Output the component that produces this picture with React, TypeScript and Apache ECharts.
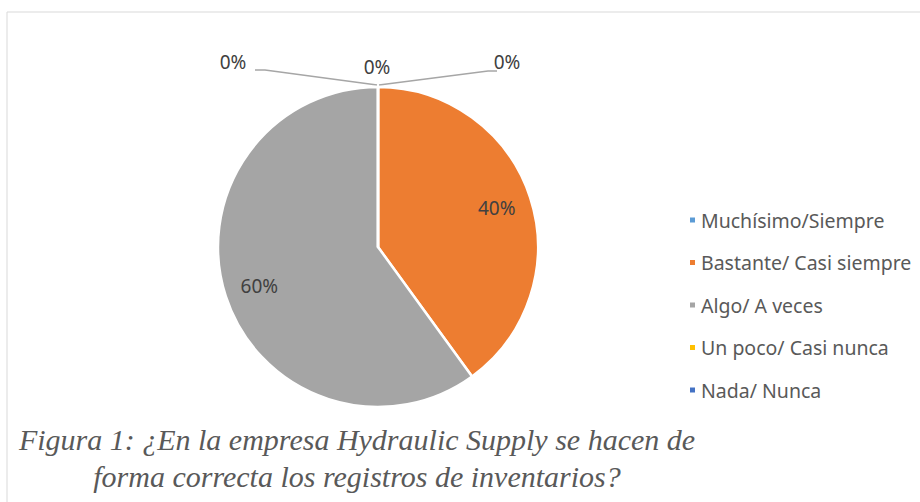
import React, { useEffect, useRef } from "react";
import * as echarts from "echarts";

const categories = [
  "Muchísimo/Siempre",
  "Bastante/ Casi siempre",
  "Algo/ A veces",
  "Un poco/ Casi nunca",
  "Nada/ Nunca",
];
const values = [0, 40, 60, 0, 0];
const colors = ["#5B9BD5", "#ED7D31", "#A5A5A5", "#FFC000", "#4472C4"];
const captionLines = [
  "Figura 1: ¿En la empresa Hydraulic Supply se hacen de",
  "forma correcta los registros de inventarios?",
];

const CX = 378;
const CY = 247;
const R = 160;

export default function App() {
  const ref = useRef<HTMLDivElement>(null);
  useEffect(() => {
    if (!ref.current) return;
    const chart = echarts.init(ref.current, null, { renderer: "svg" });
    const total = values.reduce((a, b) => a + b, 0);
    const mids: number[] = [];
    let acc = 0;
    values.forEach((v) => {
      const a = (v / total) * 360;
      mids.push(acc + a / 2);
      acc += a;
    });
    const topX = CX;
    const topY = CY - R;
    const zeroPlacement: Record<number, any> = {
      0: { x: topX + 129, y: topY - 25, line: [[topX + 1, topY - 2], [topX + 110, topY - 16], [topX + 119, topY - 16]] },
      3: { x: topX - 1, y: topY - 20, line: null },
      4: { x: topX - 145, y: topY - 25, line: [[topX - 1, topY - 2], [topX - 113, topY - 17], [topX - 123, topY - 17]] },
    };

    const option: any = {
      animation: false,
      color: colors,
      legend: {
        orient: "vertical",
        left: 683,
        top: 204,
        icon: "rect",
        itemWidth: 7,
        itemHeight: 7,
        itemGap: 20.5,
        textStyle: {
          fontFamily: "Noto Sans",
          fontSize: 19.5,
          color: "#595959",
          lineHeight: 22,
          padding: [0, 0, 0, 0],
        },
        data: categories,
      },
      graphic: [
        {
          type: "rect",
          shape: { x: 7, y: 12, width: 930, height: 520 },
          style: { fill: "none", stroke: "#d9d9d9", lineWidth: 1 },
          silent: true,
          z: -10,
        },
        {
          type: "text",
          x: 357,
          y: 458,
          style: {
            text: captionLines.join("\n"),
            font: "italic 30px 'Liberation Serif'",
            fill: "#595959",
            align: "center",
            verticalAlign: "middle",
            lineHeight: 37,
          },
        },
      ],
      series: [
        {
          type: "pie",
          center: [CX, CY],
          radius: R,
          startAngle: 90,
          clockwise: true,
          avoidLabelOverlap: false,
          itemStyle: { borderColor: "#fff", borderWidth: 2.5 },
          label: {
            show: true,
            position: "outside",
            formatter: (p: any) => Math.round(p.percent) + "%",
            fontFamily: "Noto Sans",
            fontSize: 19,
            color: "#404040",
          },
          labelLine: {
            show: true,
            lineStyle: { color: "#A6A6A6", width: 1.5 },
          },
          labelLayout: (p: any) => {
            const i = p.dataIndex;
            if (values[i] === 0 && zeroPlacement[i]) {
              const z = zeroPlacement[i];
              const res: any = { x: z.x, y: z.y, align: "center", verticalAlign: "middle" };
              if (z.line) res.labelLinePoints = z.line;
              return res;
            }
            const ang = (mids[i] * Math.PI) / 180;
            return {
              x: CX + Math.sin(ang) * R * 0.78,
              y: CY - Math.cos(ang) * R * 0.78,
              align: "center",
              verticalAlign: "middle",
            };
          },
          data: categories.map((name, i) => ({
            name,
            value: values[i],
            labelLine: { show: values[i] === 0 && i !== 3 },
          })),
        },
      ],
    };
    chart.setOption(option);
    return () => chart.dispose();
  }, []);
  return (
    <div
      ref={ref}
      style={{ position: "fixed", left: 0, top: 0, width: 920, height: 502, background: "#fff" }}
    />
  );
}
